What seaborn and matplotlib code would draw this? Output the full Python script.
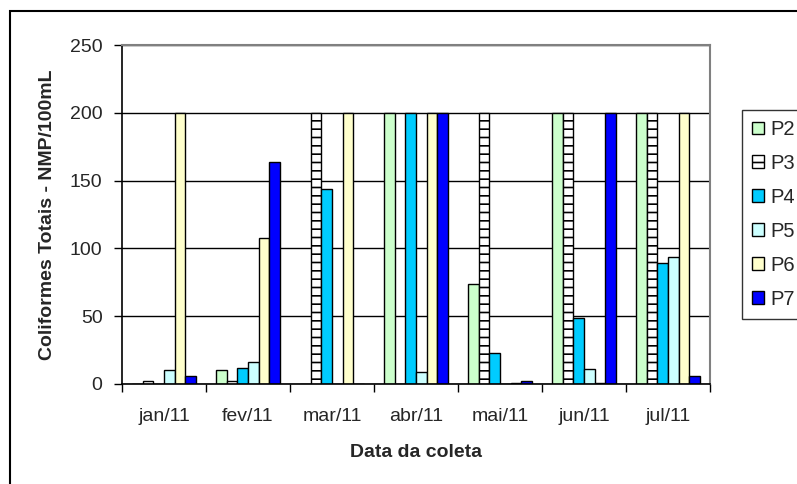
import pandas as pd
import seaborn as sns
import matplotlib
matplotlib.use('Agg')
import matplotlib.pyplot as plt
from matplotlib.patches import Patch, Rectangle

# Dados
meses = ['jan/11', 'fev/11', 'mar/11', 'abr/11', 'mai/11', 'jun/11', 'jul/11']
pontos = ['P2', 'P3', 'P4', 'P5', 'P6', 'P7']
p2 = [0, 10, 0, 200, 74, 200, 200]
p3 = [2, 2, 200, 0, 200, 200, 200]
p4 = [0, 12, 144, 200, 23, 49, 89]
p5 = [10, 16, 0, 9, 0, 11, 94]
p6 = [200, 108, 200, 200, 1, 1, 200]
p7 = [6, 164, 0, 200, 2.5, 200, 6]
cores = ['#CCFFCC', '#FFFFFF', '#00CCFF', '#CCFFFF', '#FFFFCC', '#0000FF']

valores = [p2, p3, p4, p5, p6, p7]
linhas = []
for ponto, serie in zip(pontos, valores):
    for mes, v in zip(meses, serie):
        linhas.append({'Mes': mes, 'Ponto': ponto, 'Valor': v})
df = pd.DataFrame(linhas)

sns.set_style('white')
plt.rcParams['font.family'] = ['Liberation Sans', 'DejaVu Sans']
plt.rcParams['hatch.linewidth'] = 1.2
plt.rcParams['hatch.color'] = '#333333'

fs = 14

fig = plt.figure(figsize=(7.97, 4.84), dpi=100)
ax = fig.add_axes([122 / 797, 1 - 384 / 484, 588 / 797, 339 / 484])

sns.barplot(data=df, x='Mes', y='Valor', hue='Ponto', order=meses, hue_order=pontos,
            palette=cores, saturation=1, width=0.76, edgecolor='black', linewidth=1,
            legend=False, ax=ax)

# P3 com hachura horizontal
n = len(meses)
for i, p in enumerate(ax.patches):
    if i // n == 1:
        p.set_hatch('--')

ax.set_ylim(0, 250)
ax.set_xlim(-0.5, 6.5)
ax.set_yticks(range(0, 251, 50))
ax.yaxis.grid(True, color='black', linewidth=1)
ax.set_axisbelow(True)

ax.set_xticks([i - 0.5 for i in range(n + 1)])
ax.set_xticklabels([])
ax.set_xticks(range(n), minor=True)
ax.set_xticklabels(meses, minor=True)
ax.tick_params(axis='x', which='major', direction='out', length=6, width=1, color='black', bottom=True)
ax.tick_params(axis='x', which='minor', length=0, pad=17, labelsize=fs)
ax.tick_params(axis='y', direction='out', length=6, width=1, color='black', left=True, labelsize=fs, pad=8)

for s in ['left', 'bottom']:
    ax.spines[s].set_color('black')
    ax.spines[s].set_linewidth(1.2)
for s in ['top', 'right']:
    ax.spines[s].set_color('#808080')
    ax.spines[s].set_linewidth(1.5)

ax.set_xlabel('Data da coleta', fontsize=fs, fontweight='bold', labelpad=14)
ax.set_ylabel('Coliformes Totais - NMP/100mL', fontsize=fs, fontweight='bold', labelpad=10)

handles = []
for ponto, cor in zip(pontos, cores):
    h = Patch(facecolor=cor, edgecolor='black', linewidth=1)
    if ponto == 'P3':
        h.set_hatch('--')
    handles.append(h)
leg = fig.legend(handles, pontos, loc='upper left', bbox_to_anchor=(742 / 797, 1 - 110 / 484),
                 frameon=True, fancybox=False, edgecolor='black', fontsize=fs + 0.5,
                 handlelength=0.6, handleheight=0.6, handletextpad=0.3,
                 labelspacing=0.74, borderpad=0.5, borderaxespad=0)
leg.get_frame().set_linewidth(1)

# moldura externa do gráfico
fig.patches.append(Rectangle((10 / 797, -0.5), 2, 1.5 - 11 / 484, transform=fig.transFigure,
                             fill=False, edgecolor='black', linewidth=1.5, zorder=0))

plt.savefig('out.png', dpi=100)
